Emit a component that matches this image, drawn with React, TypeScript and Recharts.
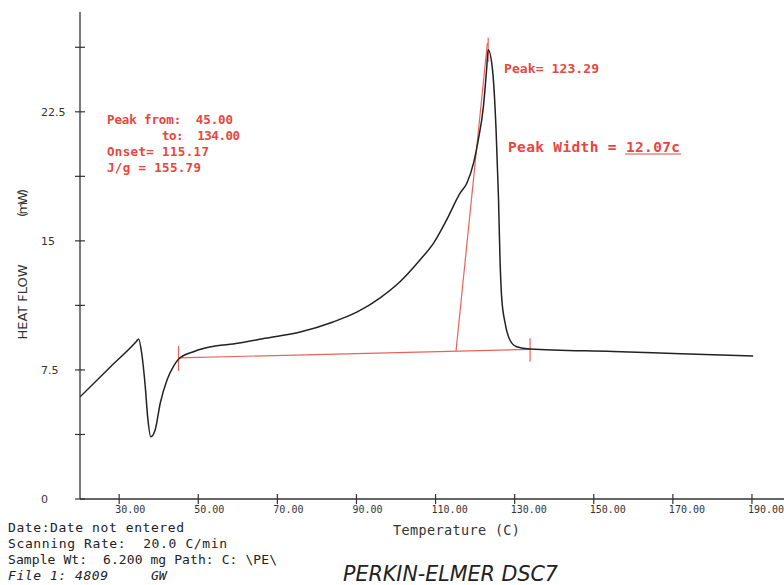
import React from 'react';
import { ComposedChart, Line, XAxis, YAxis } from 'recharts';

// DSC trace
const temps = [
  20.1, 27.7, 34.4, 34.9, 35.7, 36.6, 37.2, 38.0, 39.1, 40.4, 42.1, 43.7, 45.0, 48.8, 54.7,
  58.8, 67.4, 75.8, 84.1, 90.2, 96.0, 101.0, 106.1, 109.5, 112.8, 116.2, 117.9, 119.6,
  120.8, 122.1, 122.9, 123.3, 124.4, 125.3, 125.9, 126.3, 126.7, 127.6, 128.8, 130.5,
  133.9, 154.9, 172.0, 190.3,
];
const heatFlow = [
  5.93, 7.66, 9.17, 9.3, 8.47, 6.53, 4.79, 3.62, 4.01, 5.58, 6.92, 7.69, 8.12, 8.56, 8.9,
  9.01, 9.36, 9.71, 10.29, 10.87, 11.69, 12.62, 13.9, 14.87, 16.22, 17.77, 18.35, 19.52,
  20.87, 22.8, 24.94, 26.1, 24.94, 21.45, 17.58, 13.9, 11.76, 10.2, 9.24, 8.85,
  8.72, 8.57, 8.44, 8.31,
];

// red analysis overlays
const baselineT = [45.0, 133.9];
const baselineHF = [8.2, 8.7];
const startMarkT = [45.0, 45.0];
const startMarkHF = [7.44, 8.9];
const endMarkT = [133.9, 133.9];
const endMarkHF = [7.98, 9.34];
const onsetT = [115.17, 123.1];
const onsetHF = [8.6, 26.5];
const peakMarkT = [123.3, 123.3];
const peakMarkHF = [25.4, 26.8];

const xTicks = [30, 50, 70, 90, 110, 130, 150, 170, 190];
const yTicks = [0, 3.75, 7.5, 11.25, 15, 18.75, 22.5, 26.25];
const yLabels: Record<string, string> = { '0': '0', '7.5': '7.5', '15': '15', '22.5': '22.5' };

const toPts = (ts: number[], hs: number[]) => ts.map((t, i) => ({ t, hf: hs[i] }));

const RED = '#e8463f';
const INK = '#333';
const MONO = '"DejaVu Sans Mono", monospace';

const XTick = (props: any) => {
  const { x, y, payload } = props;
  return (
    <g>
      <line x1={x} x2={x} y1={y - 5} y2={y + 5} stroke={INK} strokeWidth={1.2} />
      <text x={x - 4} y={y + 14} fontFamily={MONO} fontSize={10} fill={INK}>
        {payload.value.toFixed(2)}
      </text>
    </g>
  );
};

const YTick = (props: any) => {
  const { x, y, payload } = props;
  const label = yLabels[String(payload.value)];
  return (
    <g>
      <line x1={x - 5} x2={x + 5} y1={y} y2={y} stroke={INK} strokeWidth={1.2} />
      {label && (
        <text x={x - 39} y={y + 4} fontFamily='"DejaVu Sans", sans-serif' fontSize={11} fill={INK}>
          {label}
        </text>
      )}
    </g>
  );
};

const App: React.FC = () => {
  const curve = toPts(temps, heatFlow);
  const redLines = [
    toPts(baselineT, baselineHF),
    toPts(startMarkT, startMarkHF),
    toPts(endMarkT, endMarkHF),
    toPts(onsetT, onsetHF),
    toPts(peakMarkT, peakMarkHF),
  ];

  return (
    <div style={{ position: 'absolute', left: 0, top: 0, width: 784, height: 585, background: '#fff' }}>
      <ComposedChart width={784} height={585} margin={{ top: 12, right: 0, bottom: 0, left: 0 }}>
        <XAxis
          dataKey="t"
          type="number"
          domain={[20.1, 198.1]}
          ticks={xTicks}
          allowDataOverflow
          height={86}
          tickSize={0}
          tickMargin={0}
          tickLine={false}
          axisLine={{ stroke: INK, strokeWidth: 1.3 }}
          tick={<XTick />}
          interval={0}
        />
        <YAxis
          type="number"
          domain={[0, 28.3]}
          ticks={yTicks}
          allowDataOverflow
          width={80}
          tickSize={0}
          tickMargin={0}
          tickLine={false}
          axisLine={{ stroke: INK, strokeWidth: 1.3 }}
          tick={<YTick />}
          interval={0}
        />
        {redLines.map((pts, i) => (
          <Line
            key={`red-${i}`}
            data={pts}
            dataKey="hf"
            type="linear"
            stroke={RED}
            strokeWidth={1.2}
            strokeOpacity={0.85}
            dot={false}
            isAnimationActive={false}
          />
        ))}
        <Line
          data={curve}
          dataKey="hf"
          type="monotone"
          stroke="#222"
          strokeWidth={1.5}
          dot={false}
          isAnimationActive={false}
        />
      </ComposedChart>

      <svg
        width={784}
        height={585}
        style={{ position: 'absolute', left: 0, top: 0, pointerEvents: 'none' }}
      >
        <g fontFamily={MONO} fontWeight="bold" fill={RED}>
          <text x={107} y={124} fontSize={12.5} textLength={126} xmlSpace="preserve">Peak from:  45.00</text>
          <text x={162} y={140} fontSize={12.5} textLength={78} xmlSpace="preserve">to:  134.00</text>
          <text x={107} y={156} fontSize={12.5} textLength={102}>Onset= 115.17</text>
          <text x={107} y={172} fontSize={12.5} textLength={94}>J/g = 155.79</text>
          <text x={504} y={73} fontSize={13} textLength={95}>Peak= 123.29</text>
          <text x={508} y={152} fontSize={14.5} textLength={172}>Peak Width = 12.07c</text>
        </g>
        <line x1={625} x2={681} y1={154} y2={154} stroke={RED} strokeWidth={1} />

        <g fontFamily='"DejaVu Sans", sans-serif' fontSize={13} fill={INK} textAnchor="middle">
          <text x={22} y={302} dominantBaseline="central" transform="rotate(-90 22 302)" textLength={75}>
            HEAT FLOW
          </text>
          <text x={22} y={203} dominantBaseline="central" transform="rotate(-90 22 203)" textLength={28}>
            (mW)
          </text>
        </g>

        <text x={393} y={535} fontFamily={MONO} fontSize={13.5} fill={INK} textLength={127}>
          Temperature (C)
        </text>

        <g fontFamily={MONO} fontSize={13} fill="#222">
          <text x={8} y={532} textLength={176}>Date:Date not entered</text>
          <text x={8} y={548} textLength={219} xmlSpace="preserve">Scanning Rate:  20.0 C/min</text>
          <text x={8} y={564} textLength={269} xmlSpace="preserve">Sample Wt:  6.200 mg Path: C: \PE\</text>
          <text x={8} y={580} fontStyle="italic" textLength={100}>File 1: 4809</text>
          <text x={151} y={580} fontStyle="italic">GW</text>
        </g>

        <text
          x={343}
          y={581}
          fontFamily='"DejaVu Sans", sans-serif'
          fontSize={22}
          fontStyle="italic"
          fontWeight={200}
          fill="#222"
          textLength={215}
          lengthAdjust="spacingAndGlyphs"
        >
          PERKIN-ELMER DSC7
        </text>
      </svg>
    </div>
  );
};

export default App;
